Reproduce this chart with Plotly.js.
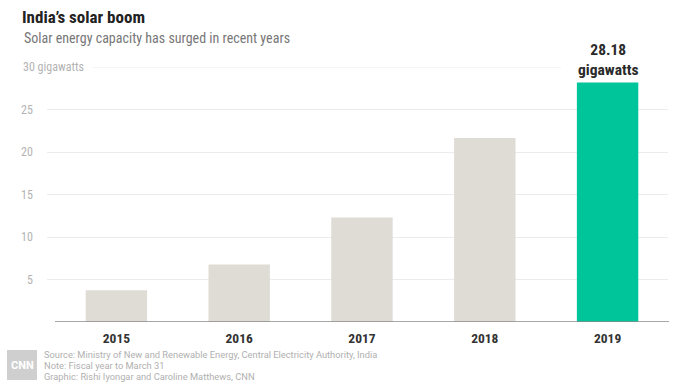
<!DOCTYPE html>
<html>
<head>
<meta charset="utf-8">
<script src="https://cdn.plot.ly/plotly-3.0.1.min.js"></script>
<style>html,body{margin:0;padding:0;background:#fff;}#chart{width:677px;height:389px;}</style>
</head>
<body>
<div id="chart"></div>
<script>
var years = ['2015', '2016', '2017', '2018', '2019'];
var capacity = [3.74, 6.76, 12.29, 21.65, 28.18];
var barColors = ['#dfdcd6', '#dfdcd6', '#dfdcd6', '#dfdcd6', '#00c49a'];
var yTicks = [5, 10, 15, 20, 25];
var yTickLabels = ['5', '10', '15', '20', '25'];
var topTick = 30;
var topTickLabel = '30 gigawatts';
var highlightValue = '28.18';
var highlightUnit = 'gigawatts';

var W = 677, H = 389;
var L = 47, R = 9, T = 67, B = 67;
var cond = '"Roboto Condensed", "Liberation Sans Narrow", "DejaVu Sans Condensed", Roboto, sans-serif';
var plain = 'Roboto, "Liberation Sans", sans-serif';

function px(x) { return (x - L) / (W - L - R); }
function py(y) { return (H - y - B) / (H - T - B); }

var annotations = [];
for (var i = 0; i < yTicks.length; i++) {
  annotations.push({
    xref: 'paper', yref: 'y', x: px(35), y: yTicks[i], xanchor: 'right', yanchor: 'middle',
    text: yTickLabels[i], showarrow: false, font: {family: cond, size: 12, color: '#b3b3b3'}
  });
}
annotations.push({
  xref: 'paper', yref: 'y', x: px(21), y: topTick, xanchor: 'left', yanchor: 'middle',
  text: topTickLabel, showarrow: false, font: {family: cond, size: 12, color: '#b3b3b3'}
});
annotations.push({
  xref: 'x', yref: 'y', x: 4, y: capacity[4], xanchor: 'center', yanchor: 'middle', yshift: 22,
  text: '<b>' + highlightValue + '</b><br><b>' + highlightUnit + '</b>', showarrow: false,
  font: {family: cond, size: 15.5, color: '#2a2a2a'}
});
annotations.push({
  xref: 'paper', yref: 'paper', x: px(22), y: py(38), xanchor: 'left', yanchor: 'middle',
  text: 'Solar energy capacity has surged in recent years', showarrow: false,
  font: {family: cond, size: 14, color: '#777777'}
});
var foot = ['Source: Ministry of New and Renewable Energy, Central Electricity Authority, India',
            'Note: Fiscal year to March 31',
            'Graphic: Rishi Iyongar and Caroline Matthews, CNN'];
var footY = [354, 365, 376];
for (var j = 0; j < foot.length; j++) {
  annotations.push({
    xref: 'paper', yref: 'paper', x: px(42), y: py(footY[j]), xanchor: 'left', yanchor: 'middle',
    text: foot[j], showarrow: false, font: {family: plain, size: 9.3, color: '#b0b0b0'}
  });
}
annotations.push({
  xref: 'paper', yref: 'paper', x: px(22), y: py(365), xanchor: 'center', yanchor: 'middle',
  text: '<b>CNN</b>', showarrow: false, font: {family: plain, size: 11, color: '#ffffff'}
});

var shapes = [
  {type: 'line', xref: 'paper', yref: 'y', x0: px(93), x1: px(561), y0: topTick, y1: topTick,
   line: {color: '#ececec', width: 1}, layer: 'below'},
  {type: 'line', xref: 'paper', yref: 'y', x0: px(55), x1: px(669), y0: 0, y1: 0,
   line: {color: '#8a8a8a', width: 1.5}},
  {type: 'rect', xref: 'paper', yref: 'paper', x0: px(7), x1: px(37),
   y0: py(380), y1: py(350),
   fillcolor: '#cfcfcf', line: {width: 0}, layer: 'below'}
];

var trace = {
  type: 'bar', x: years, y: capacity,
  marker: {color: barColors, line: {width: 0}},
  hoverinfo: 'none', cliponaxis: false
};

var layout = {
  width: W, height: H,
  margin: {l: L, r: R, t: T, b: B, pad: 0},
  paper_bgcolor: '#ffffff', plot_bgcolor: '#ffffff',
  title: {text: '<b>India’s solar boom</b>', x: 22 / W, xanchor: 'left', xref: 'container',
          y: 1 - 17 / H, yref: 'container', yanchor: 'middle',
          font: {family: cond, size: 17, color: '#222222'}},
  showlegend: false,
  bargap: 0.5,
  xaxis: {type: 'category', range: [-0.565, 4.492], showgrid: false, zeroline: false, showline: false,
          ticks: '', ticklabelstandoff: 6,
          tickfont: {family: cond, size: 13.5, color: '#333333', weight: 'bold'}, fixedrange: true},
  yaxis: {range: [0, 30], tickvals: yTicks, showticklabels: false, showgrid: true,
          gridcolor: '#ececec', gridwidth: 1, zeroline: false, showline: false, ticks: '', fixedrange: true},
  annotations: annotations,
  shapes: shapes
};

Plotly.newPlot('chart', [trace], layout, {displayModeBar: false, staticPlot: true});
</script>
</body>
</html>
